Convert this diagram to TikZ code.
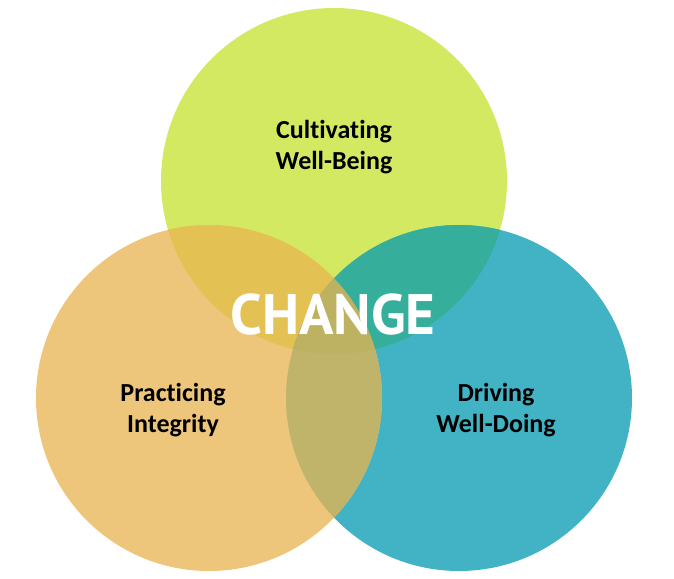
\documentclass[tikz,border=0pt]{standalone}
\usepackage{fontspec}
\setmainfont[Ligatures=NoCommon]{Carlito}
\newfontfamily\changefont{PT Sans}
\definecolor{lime}{HTML}{D3E961}
\definecolor{orng}{HTML}{EEC67B}
\definecolor{teal}{HTML}{42B3C4}
\definecolor{lo}{HTML}{E3C253}
\definecolor{lt}{HTML}{35AF9B}
\definecolor{ot}{HTML}{C0B46B}
\definecolor{trip}{HTML}{BDB162}
\begin{document}
\begin{tikzpicture}[x=1pt,y=-1pt,
  lbl/.style={align=center,font=\fontsize{26}{31}\selectfont\bfseries,text=black},
  circ/.style={circle,minimum size=346pt,inner sep=0pt}]
\useasboundingbox (0,0) rectangle (674,578);
\node[circ,fill=lime] (top) at (334,181) {};
\node[circ,fill=teal] (right) at (459,398) {};
\node[circ,fill=orng] (left) at (209,398) {};
\begin{scope}
  \clip (334,181) circle (173);
  \fill[lo] (209,398) circle (173);
  \fill[lt] (459,398) circle (173);
\end{scope}
\begin{scope}
  \clip (209,398) circle (173);
  \fill[ot] (459,398) circle (173);
  \clip (334,181) circle (173);
  \fill[trip] (459,398) circle (173);
\end{scope}
\node[lbl] (t1) at (334,147) {Cultivating\\Well-Being};
\node[lbl] (t2) at (173,410) {Practicing\\Integrity};
\node[lbl] (t3) at (496,410) {Driving\\Well-Doing};
\node[font=\changefont\fontsize{57}{57}\selectfont\bfseries,text=white] (c) at (333,315) {CHANGE};
\end{tikzpicture}
\end{document}
